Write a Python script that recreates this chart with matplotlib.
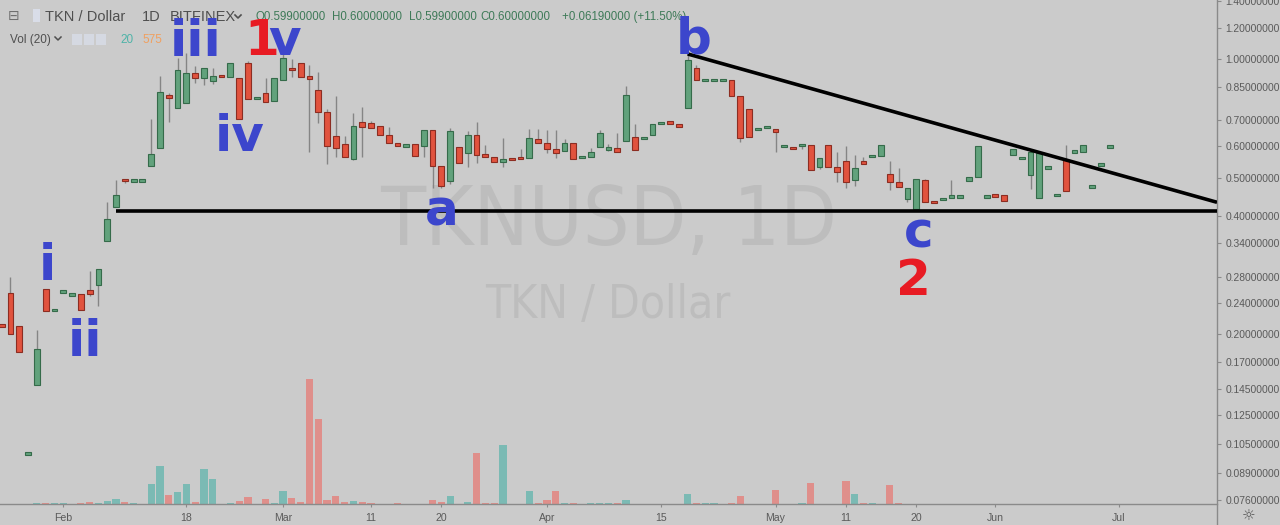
import matplotlib
matplotlib.use('Agg')
import matplotlib.pyplot as plt
from matplotlib.patches import Rectangle
from matplotlib.lines import Line2D
import matplotlib.ticker as mticker
import math

# ---------------- data (daily TKN/USD candles, Bitfinex) ----------------
opens = [0.211, 0.255, 0.210, 0.0993, 0.149, 0.261, 0.230, 0.255, 0.252, 0.253,
         0.259, 0.267, 0.344, 0.422, 0.494, 0.491, 0.491, 0.535, 0.593, 0.805,
         0.752, 0.772, 0.923, 0.896, 0.881, 0.906, 0.900, 0.893, 0.975, 0.796,
         0.818, 0.784, 0.884, 0.945, 0.979, 0.905, 0.834, 0.735, 0.639, 0.607,
         0.558, 0.693, 0.687, 0.675, 0.642, 0.613, 0.603, 0.609, 0.600, 0.660,
         0.535, 0.489, 0.597, 0.578, 0.640, 0.575, 0.563, 0.549, 0.559, 0.562,
         0.560, 0.626, 0.613, 0.592, 0.584, 0.613, 0.562, 0.563, 0.599, 0.591,
         0.595, 0.619, 0.633, 0.629, 0.642, 0.686, 0.693, 0.684, 0.751, 0.949,
         0.883, 0.883, 0.883, 0.884, 0.805, 0.745, 0.662, 0.670, 0.663, 0.601,
         0.595, 0.604, 0.604, 0.531, 0.605, 0.533, 0.552, 0.493, 0.552, 0.567,
         0.567, 0.510, 0.487, 0.440, 0.415, 0.492, 0.434, 0.440, 0.446, 0.446,
         0.491, 0.502, 0.446, 0.451, 0.451, 0.571, 0.559, 0.507, 0.444, 0.529,
         0.451, 0.554, 0.581, 0.580, 0.473, 0.539, 0.599]
highs = [0.211, 0.280, 0.210, 0.0996, 0.205, 0.261, 0.231, 0.259, 0.253, 0.253,
         0.290, 0.292, 0.434, 0.493, 0.494, 0.492, 0.492, 0.704, 0.907, 0.820,
         1.004, 1.034, 0.960, 0.947, 0.947, 0.906, 0.975, 0.893, 0.990, 0.798,
         0.893, 0.893, 1.042, 1.000, 0.979, 0.966, 0.925, 0.745, 0.805, 0.637,
         0.728, 0.754, 0.696, 0.675, 0.673, 0.613, 0.604, 0.609, 0.660, 0.660,
         0.535, 0.667, 0.597, 0.658, 0.693, 0.605, 0.563, 0.629, 0.559, 0.592,
         0.663, 0.663, 0.660, 0.660, 0.625, 0.613, 0.564, 0.593, 0.660, 0.607,
         0.648, 0.855, 0.683, 0.631, 0.684, 0.688, 0.693, 0.684, 1.042, 0.966,
         0.885, 0.885, 0.885, 0.884, 0.805, 0.745, 0.664, 0.672, 0.663, 0.603,
         0.595, 0.606, 0.604, 0.561, 0.605, 0.579, 0.601, 0.570, 0.563, 0.569,
         0.604, 0.552, 0.528, 0.471, 0.497, 0.495, 0.434, 0.442, 0.493, 0.448,
         0.502, 0.601, 0.448, 0.451, 0.451, 0.591, 0.561, 0.579, 0.578, 0.531,
         0.453, 0.605, 0.583, 0.605, 0.475, 0.541, 0.600]
lows = [0.210, 0.200, 0.180, 0.0993, 0.149, 0.229, 0.230, 0.255, 0.252, 0.230,
        0.250, 0.236, 0.344, 0.422, 0.484, 0.491, 0.491, 0.535, 0.593, 0.693,
        0.752, 0.772, 0.868, 0.859, 0.862, 0.904, 0.900, 0.705, 0.793, 0.796,
        0.779, 0.784, 0.884, 0.902, 0.902, 0.582, 0.687, 0.540, 0.565, 0.563,
        0.554, 0.565, 0.669, 0.642, 0.613, 0.602, 0.603, 0.566, 0.565, 0.471,
        0.471, 0.481, 0.545, 0.531, 0.545, 0.563, 0.549, 0.533, 0.557, 0.560,
        0.560, 0.613, 0.578, 0.560, 0.584, 0.557, 0.562, 0.563, 0.599, 0.584,
        0.580, 0.619, 0.587, 0.629, 0.642, 0.686, 0.685, 0.673, 0.751, 0.884,
        0.883, 0.883, 0.883, 0.805, 0.615, 0.633, 0.662, 0.670, 0.582, 0.601,
        0.593, 0.590, 0.523, 0.525, 0.531, 0.488, 0.471, 0.476, 0.542, 0.567,
        0.567, 0.465, 0.474, 0.434, 0.413, 0.433, 0.432, 0.440, 0.446, 0.446,
        0.491, 0.502, 0.446, 0.449, 0.436, 0.571, 0.559, 0.468, 0.444, 0.529,
        0.451, 0.463, 0.581, 0.580, 0.473, 0.539, 0.599]
closes = [0.210, 0.200, 0.180, 0.0996, 0.183, 0.229, 0.231, 0.259, 0.253, 0.230,
          0.253, 0.292, 0.392, 0.452, 0.492, 0.492, 0.492, 0.573, 0.823, 0.802,
          0.938, 0.923, 0.896, 0.947, 0.905, 0.904, 0.975, 0.705, 0.793, 0.798,
          0.779, 0.893, 1.004, 0.943, 0.902, 0.888, 0.732, 0.602, 0.593, 0.563,
          0.675, 0.673, 0.669, 0.642, 0.613, 0.602, 0.604, 0.566, 0.660, 0.534,
          0.476, 0.658, 0.545, 0.640, 0.569, 0.563, 0.549, 0.558, 0.557, 0.560,
          0.629, 0.613, 0.590, 0.578, 0.613, 0.557, 0.564, 0.582, 0.650, 0.593,
          0.580, 0.810, 0.587, 0.631, 0.684, 0.688, 0.685, 0.673, 0.994, 0.884,
          0.885, 0.885, 0.885, 0.805, 0.631, 0.633, 0.664, 0.672, 0.653, 0.603,
          0.593, 0.606, 0.523, 0.561, 0.531, 0.516, 0.486, 0.528, 0.542, 0.569,
          0.604, 0.486, 0.474, 0.471, 0.497, 0.433, 0.432, 0.442, 0.448, 0.448,
          0.502, 0.601, 0.448, 0.449, 0.436, 0.591, 0.561, 0.579, 0.578, 0.531,
          0.453, 0.463, 0.583, 0.605, 0.475, 0.541, 0.600]
volumes = [0.3, 0.3, 0.3, 0.0, 0.8, 0.8, 0.8, 0.8, 0.3, 0.8,
           2.0, 0.8, 3.3, 5.3, 1.7, 1.0, 0.3, 19.7, 38.3, 8.7,
           12.3, 20.3, 1.7, 35.0, 25.0, 0.3, 1.0, 3.3, 7.0, 0.5,
           5.3, 0.8, 13.3, 6.0, 2.3, 125.0, 85.0, 4.3, 8.0, 1.7,
           3.3, 2.3, 1.0, 0.3, 0.3, 0.8, 0.3, 0.3, 0.3, 4.3,
           2.3, 8.0, 0.3, 2.3, 51.0, 0.8, 0.8, 59.0, 0.3, 0.3,
           13.3, 0.8, 4.3, 13.3, 0.8, 0.8, 0.5, 0.8, 0.8, 0.8,
           0.8, 3.7, 0.3, 0.3, 0.3, 0.3, 0.3, 0.3, 10.3, 1.3,
           0.8, 1.0, 0.5, 1.3, 7.7, 0.3, 0.3, 0.3, 14.0, 0.3,
           0.3, 1.0, 21.0, 0.3, 0.3, 0.3, 23.0, 10.3, 0.7, 0.7,
           0.3, 18.7, 1.0, 0, 0, 0, 0, 0, 0, 0,
           0, 0, 0, 0, 0, 0, 0, 0, 0, 0,
           0, 0, 0, 0, 0, 0, 0]
price_ticks = [1.4, 1.2, 1.0, 0.85, 0.7, 0.6, 0.5, 0.4, 0.34, 0.28, 0.24,
               0.2, 0.17, 0.145, 0.125, 0.105, 0.089, 0.076]
date_labels = ['Feb', '18', 'Mar', '11', '20', 'Apr', '15', 'May', '11', '20', 'Jun', 'Jul']
date_positions = [7, 21, 32, 42, 50, 62, 75, 88, 96, 104, 113, 127]
support_level = 0.412
support_start = 13
trend_x = [78, 138.2]
trend_y = [1.03, 0.4326]
header_ohlc = ['O0.59900000', 'H0.60000000', 'L0.59900000', 'C0.60000000', '+0.06190000 (+11.50%)']

# ---------------- figure ----------------
W, H = 1280, 525
BG = '#cbcbcb'
fig = plt.figure(figsize=(W / 100, H / 100), dpi=100)
fig.patch.set_facecolor(BG)

AX_R, AX_B = 1217, 504
pos = [0, 1 - AX_B / H, AX_R / W, AX_B / H]
axv = fig.add_axes(pos)
axv.set_facecolor(BG)
ax = fig.add_axes(pos, sharex=axv)
ax.patch.set_alpha(0)

def fx(px):
    return px / W

def fy(py):
    return 1 - py / H

n = len(opens)
idx = list(range(n))
XMIN, XMAX = -0.193, 138.2
YMIN, YMAX = 0.0741, 1.412

# watermark (real text, behind the chart)
fig.text(fx(609), fy(245), 'TKNUSD, 1D', ha='center', va='baseline', fontsize=59,
         color='#bdbdbd', family='DejaVu Sans', fontstretch='condensed', zorder=0.5)
fig.text(fx(608), fy(318), 'TKN / Dollar', ha='center', va='baseline', fontsize=33,
         color='#bdbdbd', family='DejaVu Sans', fontstretch='condensed', zorder=0.5)

# volume
up_col_v, dn_col_v = '#7bbab4', '#df8f8b'
vcols = [up_col_v if closes[i] >= opens[i] else dn_col_v for i in idx]
axv.bar(idx, volumes, width=0.82, color=vcols, edgecolor='none')
axv.set_ylim(0, max(volumes) * AX_B / 125.0)
axv.set_xlim(XMIN, XMAX)
axv.axis('off')
axv.set_zorder(1)
ax.set_zorder(2)

# candles
ax.set_yscale('log')
ax.set_ylim(YMIN, YMAX)
ax.set_xlim(XMIN, XMAX)
ppl = AX_B / math.log(YMAX / YMIN)  # pixels per ln unit
min_ratio = math.exp(2.4 / ppl)
bw = 0.66
ax.vlines(idx, lows, highs, color='#858585', lw=1.0, zorder=2)
for i in idx:
    o, c = opens[i], closes[i]
    up = c >= o
    lo, hi = min(o, c), max(o, c)
    if hi / lo < min_ratio:
        mid = math.sqrt(hi * lo)
        lo, hi = mid / math.sqrt(min_ratio), mid * math.sqrt(min_ratio)
    fc = '#62a27c' if up else '#e1533e'
    ec = '#356b4a' if up else '#8c2d22'
    ax.add_patch(Rectangle((i - bw / 2, lo), bw, hi - lo, facecolor=fc,
                           edgecolor=ec, lw=0.8, zorder=3))

# support and trend lines
ax.plot([support_start, XMAX], [support_level, support_level], color='black', lw=2.6,
        zorder=4, solid_capstyle='butt')
ax.plot(trend_x, trend_y, color='black', lw=2.6, zorder=4, solid_capstyle='butt')

# axes styling
ax.yaxis.tick_right()
ax.set_yticks(price_ticks)
ax.yaxis.set_major_formatter(mticker.FuncFormatter(lambda v, p: '%.8f' % v))
ax.yaxis.set_minor_locator(mticker.NullLocator())
ax.set_xticks(date_positions)
ax.set_xticklabels(date_labels)
ax.xaxis.set_minor_locator(mticker.NullLocator())
ax.tick_params(axis='y', which='major', direction='out', length=3, pad=3,
               colors='#8a8a8a', labelcolor='#5a5a5a', labelsize=7.4)
ax.tick_params(axis='x', which='major', direction='out', length=2.5, pad=4,
               colors='#8a8a8a', labelcolor='#5a5a5a', labelsize=7.6)
for lab_ in ax.get_yticklabels() + ax.get_xticklabels():
    lab_.set_family('Liberation Sans')
for s in ['top', 'left', 'right']:
    ax.spines[s].set_visible(False)
ax.spines['bottom'].set_color('#8a8a8a')
ax.spines['bottom'].set_linewidth(1.0)
fig.add_artist(Line2D([fx(AX_R), fx(AX_R)], [0, 1], color='#8a8a8a', lw=1.0))

# wave annotations
BLUE, RED = '#3c46cc', '#e81b23'
def lab(t, cx, base, col):
    fig.text(fx(cx), fy(base), t, ha='center', va='baseline', fontsize=36,
             fontweight='bold', color=col, family='DejaVu Sans', zorder=10)
lab('iii', 196, 56, BLUE)
lab('1', 262, 55, RED)
lab('v', 285, 55, BLUE)
lab('iv', 240, 151, BLUE)
lab('i', 47.5, 280, BLUE)
lab('ii', 85, 356, BLUE)
lab('a', 441.5, 225, BLUE)
lab('b', 694, 54, BLUE)
lab('c', 919, 248, BLUE)
lab('2', 913.5, 295, RED)

# header
HDR = '#4f4f4f'
fig.text(fx(8), fy(20), '\u229f', ha='left', va='baseline', fontsize=10, color='#6f6f6f')
fig.add_artist(Rectangle((fx(33), fy(22)), fx(7), 13 / H, transform=fig.transFigure,
                         facecolor='#d9dde8', edgecolor='none'))
fig.text(fx(45), fy(21), 'TKN / Dollar', ha='left', va='baseline', fontsize=10.5,
         color=HDR, family='Liberation Sans')
fig.text(fx(142), fy(21), '1D', ha='left', va='baseline', fontsize=10.5,
         color=HDR, family='Liberation Sans')
fig.text(fx(170), fy(21), 'BITFINEX', ha='left', va='baseline', fontsize=10.5,
         color=HDR, family='Liberation Sans')
fig.add_artist(Line2D([fx(235), fx(238), fx(241)], [fy(15), fy(18), fy(15)],
                      color=HDR, lw=1.2))
xs = [255, 332, 409, 480, 562]
for t, x in zip(header_ohlc, xs):
    fig.text(fx(x), fy(20), t, ha='left', va='baseline', fontsize=8.3,
             color='#3e7a58', family='Liberation Sans')
fig.text(fx(10), fy(43), 'Vol (20)', ha='left', va='baseline', fontsize=8.5,
         color=HDR, family='Liberation Sans')
fig.add_artist(Line2D([fx(55), fx(58), fx(61)], [fy(37), fy(40), fy(37)],
                      color=HDR, lw=1.1))
for x0 in [72, 84, 96]:
    fig.add_artist(Rectangle((fx(x0), fy(45)), fx(10), 11 / H, transform=fig.transFigure,
                             facecolor='#d5d9e2', edgecolor='none'))
fig.text(fx(120), fy(43), '20', ha='left', va='baseline', fontsize=8.5,
         color='#4fb3a8', family='Liberation Sans')
fig.text(fx(142), fy(43), '575', ha='left', va='baseline', fontsize=8.5,
         color='#f0a060', family='Liberation Sans')

# gear icon
fig.text(fx(1249), fy(521), '\u263c', ha='center', va='baseline', fontsize=11, color='#555555')

fig.savefig('out.png', dpi=100, facecolor=BG)
